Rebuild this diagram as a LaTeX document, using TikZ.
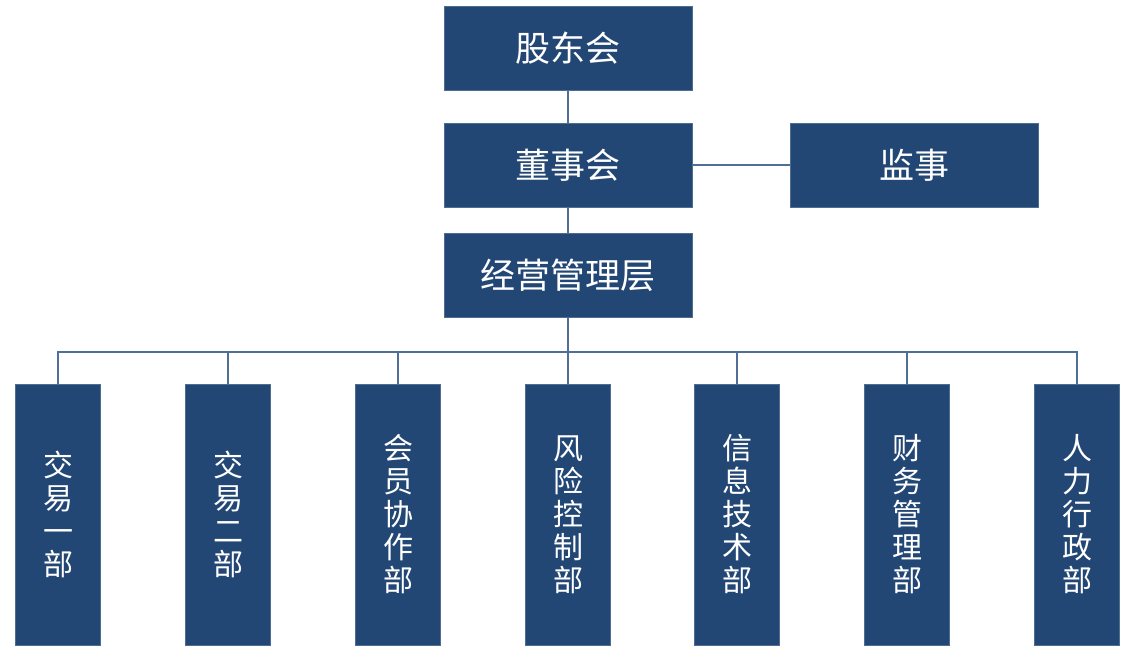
\documentclass[tikz,border=0pt]{standalone}
\usepackage{fontspec}
\newfontfamily\cjk{Noto Sans CJK SC}
\usetikzlibrary{positioning}
\definecolor{boxblue}{HTML}{234775}
\definecolor{lineblue}{HTML}{4F6E98}

\begin{document}
\begin{tikzpicture}[
    x=1pt, y=-1pt,
    box/.style={fill=boxblue,draw=boxblue!80!white,line width=0.6pt,text=white,align=center,inner sep=0pt,
        minimum width=248pt,minimum height=84pt,font=\cjk\fontsize{35}{38}\selectfont},
    dept/.style={fill=boxblue,draw=boxblue!80!white,line width=0.6pt,text=white,align=center,inner sep=0pt,
        minimum width=85pt,minimum height=261pt,font=\cjk\fontsize{30}{33}\selectfont},
    link/.style={draw=lineblue,line width=1.2pt}
]
\useasboundingbox (0,0) rectangle (1135,657);

\node[box] (meeting) at (568,48) {股东会};
\node[box] (board) at (568,165) {董事会};
\node[box] (super) at (914,165) {监事};
\node[box] (mgmt) at (568,275) {经营管理层};

\node[dept] (trade1) at (58,514.5) {交\\易\\一\\部};
\node[dept] (trade2) at (228,514.5) {交\\易\\二\\部};
\node[dept] (member) at (398,514.5) {会\\员\\协\\作\\部};
\node[dept] (risk) at (568,514.5) {风\\险\\控\\制\\部};
\node[dept] (info) at (737,514.5) {信\\息\\技\\术\\部};
\node[dept] (finance) at (907,514.5) {财\\务\\管\\理\\部};
\node[dept] (hr) at (1077,514.5) {人\\力\\行\\政\\部};

\coordinate (bus) at (568,352);

\draw[link] (meeting) -- (board);
\draw[link] (board) -- (super);
\draw[link] (board) -- (mgmt);
\draw[link] (mgmt) -- (bus);
\draw[link] (bus) -| (trade1.north);
\draw[link] (bus) -| (trade2.north);
\draw[link] (bus) -| (member.north);
\draw[link] (bus) -- (risk.north);
\draw[link] (bus) -| (info.north);
\draw[link] (bus) -| (finance.north);
\draw[link] (bus) -| (hr.north);

\end{tikzpicture}
\end{document}
